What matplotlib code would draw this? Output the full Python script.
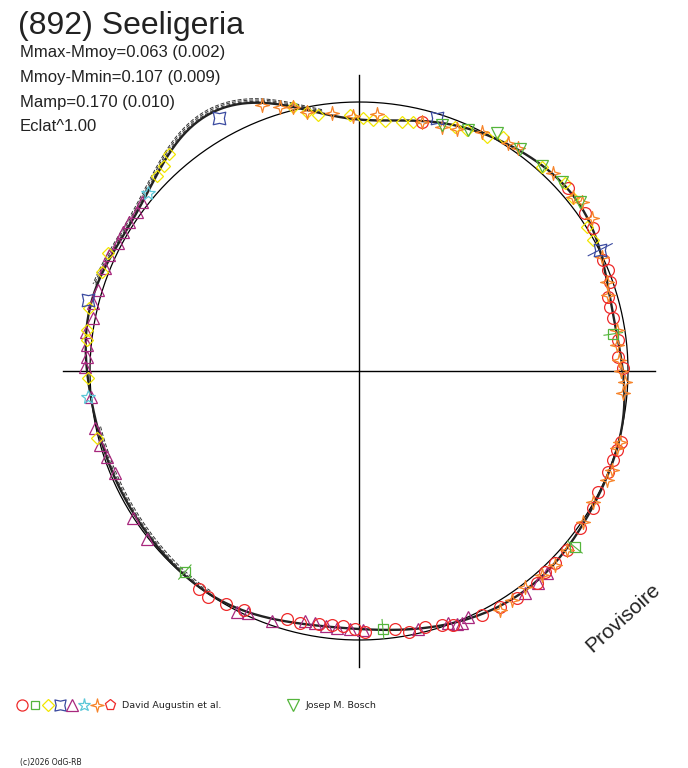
import numpy as np
import matplotlib
matplotlib.use("Agg")
import matplotlib.pyplot as plt
from matplotlib.path import Path

# ---------------- data (angles in degrees, radii on a scale where the reference circle = 269) ----
REF_RADIUS = 269.0

curve_angle = [0, 6, 13, 20, 26.7, 36.6, 43, 48.7, 54, 58.8, 66, 73, 79, 84.6, 90, 95.8, 100.7,
               106, 110.4, 114.6, 118, 122, 127, 131, 136, 139.8, 147, 152, 156.8, 162, 167,
               172, 177, 182.5, 188, 194, 199, 203, 210, 213, 218, 224, 229, 234, 240.6, 245,
               250.5, 256, 261, 265, 270, 276, 283, 290, 294, 300, 306, 313, 319.3, 325, 331,
               338, 343, 348, 354]
curve_radius = [263, 261, 260, 265, 270, 275, 277, 274, 273, 272, 266, 258, 254, 252, 254, 258,
                263.6, 275, 284, 293, 300, 299, 293, 288.5, 280, 276, 273, 273, 274, 276, 276,
                274.6, 273, 271, 270, 268, 266, 264.5, 266, 268, 269, 268, 266, 268, 269, 266,
                264, 258, 257, 257, 259, 261, 264.5, 268, 271, 273, 275, 276, 274, 270.5, 269,
                269, 271, 270, 266]

# David Augustin et al. sessions
red_circle_angle = [75.8, 41.2, 35, 31.4, 24.5, 22, 19.5, 16.6, 14.3, 11.8, 6.8, 3.1, 0.7, -15.2,
                    -17, -19.3, -22, -26.9, -30.3, -35.4, -40.7, -44.4, -47.2, -50, -55.2, -59.1,
                    -63.2, -69.7, -71.9, -75.5, -79.2, -82, -88.7, -90.9, -93.6, -96, -99, -103.2,
                    -106.2, -115.7, -119.7, -123.7, -126.3]
red_circle_radius = [257, 278, 276, 274, 268, 269, 266, 260, 259, 259.5, 261, 259, 264, 271,
                     270, 269, 269, 268, 271, 271, 274, 274, 274, 277, 276.6, 275, 273, 271, 267,
                     264, 266, 260.5, 261, 258, 255.5, 255.4, 256, 259, 258, 265, 268, 272, 270]

green_square_angle = [229.1, 275.3, 8.3, 320.8]
green_square_radius = [266, 259, 257, 278.6]

yellow_diamond_angle = [136, 133.6, 131.2, 154.8, 158.9, 166.9, 171.4, 173.5, 181.5, 194.3,
                        104, 101.4, 99.1, 92, 89.1, 86.8, 84, 80.2, 77.8, 68.5, 65.9, 61.3, 58.4,
                        48.1, 42.4, 39, 32.3, 29.2]
yellow_diamond_radius = [281, 283, 288, 277, 275, 277, 275, 274, 271, 270,
                         272, 264, 259, 256, 253, 251.4, 251, 253, 255, 262, 264, 267, 275,
                         274, 279, 275, 270, 268]

blue_star_angle = [119, 72.9, 26.7, 165.3]
blue_star_radius = [289, 265, 270, 280]

magenta_triangle_angle = [142.1, 144.4, 147.1, 149.5, 152, 155.1, 157.9, 162.8, 165.7, 168.7,
                          171.9, 174.5, 177, 179.2, 185.5, 192.2, 196, 198.8, 202.7, 213, 218.4,
                          243.2, 245.4, 250.8, 257.8, 260, 262.6, 265, 268, 270.9, 282.9, 289.4,
                          291.2, 292.2, 293.9, 306.8, 310.2, 312.9]
magenta_triangle_radius = [275, 273, 274, 274, 273, 275.6, 274, 273, 274.6, 271,
                           276, 273, 272, 274, 269, 270, 269, 266, 264.5, 269.6, 270.5,
                           270, 266, 265, 256, 256, 257, 258, 258, 259, 264.7, 267,
                           271, 272, 269, 277, 277.5, 276]

cyan_star_angle = [139.8, 185.5]
cyan_star_radius = [276, 272]

orange_star_angle = [110, 106.7, 104, 101.4, 96, 91.3, 86, 75.8, 71.2, 68, 62.8, 56.8, 54.5,
                     45.6, 39.1, 37.2, 33.3, 25.1, 19.7, 17, 9, 5.8, 2.4, 0, -2.4, -4.8, -15.2,
                     -16.6, -21.4, -23.7, -29.2, -34, -40.7, -44.7, -48.1, -52.5, -56.3, -59.5]
orange_star_radius = [283, 275.6, 272, 264, 259, 255, 257.6, 257, 258, 261, 269, 272, 274,
                      277, 276, 280, 279, 268, 263.5, 260, 261, 259, 260, 262, 266, 265, 270.5,
                      269, 272, 271, 268, 270, 274, 276, 274, 272, 275, 277.5]

# Josep M. Bosch
bosch_angle = [71.4, 65.7, 59.9, 54, 48.2, 43, 37.4]
bosch_radius = [260, 264.5, 275, 274, 275, 277, 278]

title = "(892) Seeligeria"
info_lines = ["Mmax-Mmoy=0.063 (0.002)", "Mmoy-Mmin=0.107 (0.009)",
              "Mamp=0.170 (0.010)", "Eclat^1.00"]
observer_1 = "David Augustin et al."
observer_2 = "Josep M. Bosch"
credit = "(c)2026 OdG-RB"
stamp = "Provisoire"

# ---------------- figure ----------------
W, H = 688, 768
CX, CY = 359, 371
fig = plt.figure(figsize=(W / 100, H / 100), dpi=100)
fig.patch.set_facecolor("white")
ax = fig.add_axes([0, 0, 1, 1])
ax.set_xlim(-CX / REF_RADIUS, (W - CX) / REF_RADIUS)
ax.set_ylim(-(H - CY) / REF_RADIUS, CY / REF_RADIUS)
ax.axis("off")


def star_path(n, inner, rot=0.0):
    ang = np.linspace(0, 2 * np.pi, 2 * n, endpoint=False) + np.pi / 2 + rot
    rad = np.where(np.arange(2 * n) % 2 == 0, 1.0, inner)
    v = np.column_stack([rad * np.cos(ang), rad * np.sin(ang)])
    v = np.vstack([v, v[:1]])
    codes = [Path.MOVETO] + [Path.LINETO] * (2 * n - 1) + [Path.CLOSEPOLY]
    return Path(v, codes)


star4 = star_path(4, 0.28)
bow4 = star_path(4, 0.55, rot=np.pi / 4)

# axes cross
ax.plot([-1.1, 1.1], [0, 0], color="black", lw=1.0, zorder=1)
ax.plot([0, 0], [-1.1, 1.1], color="black", lw=1.0, zorder=1)

# reference circle
t = np.linspace(0, 2 * np.pi, 400)
ax.plot(np.cos(t), np.sin(t), color="black", lw=0.9, zorder=2)

# fitted light curve (Fourier least squares through the read knots)
th = np.radians(np.array(curve_angle, float))
rr = np.array(curve_radius, float) / REF_RADIUS
K = 9
def design(a):
    cols = [np.ones_like(a)]
    for k in range(1, K + 1):
        cols += [np.cos(k * a), np.sin(k * a)]
    return np.column_stack(cols)
coef, *_ = np.linalg.lstsq(design(th), rr, rcond=None)
tt = np.linspace(0, 2 * np.pi, 1440)
rc = design(tt) @ coef
ax.plot(rc * np.cos(tt), rc * np.sin(tt), color="#222222", lw=1.7, zorder=3)

# faint dashed companion curves
for s in (1.005, 1.010, 1.015):
    m = (tt > np.radians(98)) & (tt < np.radians(162))
    ax.plot(s * rc[m] * np.cos(tt[m]), s * rc[m] * np.sin(tt[m]), color="#333333",
            lw=0.7, ls=(0, (4, 2)), zorder=3)
for s in (0.994, 0.988):
    m = (tt > np.radians(192)) & (tt < np.radians(236))
    ax.plot(s * rc[m] * np.cos(tt[m]), s * rc[m] * np.sin(tt[m]), color="#333333",
            lw=0.7, ls=(0, (4, 2)), zorder=3)


def scatter(angles, radii, marker, color, ms, mew=0.9, z=4):
    a = np.radians(np.array(angles, float))
    r = np.array(radii, float) / REF_RADIUS
    ax.plot(r * np.cos(a), r * np.sin(a), ls="none", marker=marker, ms=ms, mfc="none",
            mec=color, mew=mew, zorder=z)


def radial_bars(angles, radii, half, color):
    for a, r in zip(np.radians(angles), np.array(radii, float) / REF_RADIUS):
        ax.plot([(r - half) * np.cos(a), (r + half) * np.cos(a)],
                [(r - half) * np.sin(a), (r + half) * np.sin(a)], color=color, lw=0.8, zorder=4)


C_RED = "#ee2a2a"
C_GREEN = "#55b53c"
C_YELLOW = "#f2e600"
C_BLUE = "#3a4aa0"
C_MAG = "#a8287e"
C_CYAN = "#5cc8d8"
C_ORANGE = "#f7842a"

radial_bars(green_square_angle, green_square_radius, 0.035, C_GREEN)
radial_bars(blue_star_angle[2:3], blue_star_radius[2:3], 0.05, C_BLUE)

scatter(magenta_triangle_angle, magenta_triangle_radius, "^", C_MAG, 8.5)
scatter(yellow_diamond_angle, yellow_diamond_radius, "D", C_YELLOW, 6.5)
scatter(red_circle_angle, red_circle_radius, "o", C_RED, 8.5)
scatter(orange_star_angle, orange_star_radius, star4, C_ORANGE, 10)
scatter(green_square_angle, green_square_radius, "s", C_GREEN, 6.5)
scatter(blue_star_angle, blue_star_radius, bow4, C_BLUE, 9)
scatter(cyan_star_angle, cyan_star_radius, "*", C_CYAN, 10)
scatter(bosch_angle, bosch_radius, "v", C_GREEN, 8.5)

# ---------------- overlay in pixel coordinates for text and legend ----------------
ov = fig.add_axes([0, 0, 1, 1], facecolor="none")
ov.set_xlim(0, W)
ov.set_ylim(H, 0)
ov.axis("off")

ov.text(18, 34, title, fontsize=23, family="Liberation Sans", color="#222222",
        va="baseline", ha="left")
for i, (line, yb) in enumerate(zip(info_lines, [57, 82, 107, 131])):
    ov.text(20, yb, line, fontsize=12, family="Liberation Sans", color="#222222",
            va="baseline", ha="left")

ov.text(623, 618, stamp, fontsize=15, family="Liberation Sans", color="#222222",
        rotation=42, rotation_mode="anchor", ha="center", va="center")

leg_markers = [("o", C_RED, 8), ("s", C_GREEN, 6), ("D", C_YELLOW, 6), (bow4, C_BLUE, 8),
               ("^", C_MAG, 8), ("*", C_CYAN, 9.5), (star4, C_ORANGE, 9.5), ("p", C_RED, 8)]
leg_x = [22, 35, 48, 60, 72, 84, 97, 110]
for (mk, col, ms), x in zip(leg_markers, leg_x):
    ov.plot([x], [705], ls="none", marker=mk, ms=ms, mfc="none", mec=col, mew=0.9)
ov.text(122, 705, observer_1, fontsize=6.8, family="DejaVu Sans", color="#222222",
        va="center", ha="left")
ov.plot([293], [705], ls="none", marker="v", ms=8, mfc="none", mec=C_GREEN, mew=0.9)
ov.text(306, 705, observer_2, fontsize=6.8, family="DejaVu Sans", color="#222222",
        va="center", ha="left")
ov.text(20, 762, credit, fontsize=5.5, family="DejaVu Sans", color="#222222",
        va="center", ha="left")

fig.savefig("out.png", dpi=100, facecolor="white")
